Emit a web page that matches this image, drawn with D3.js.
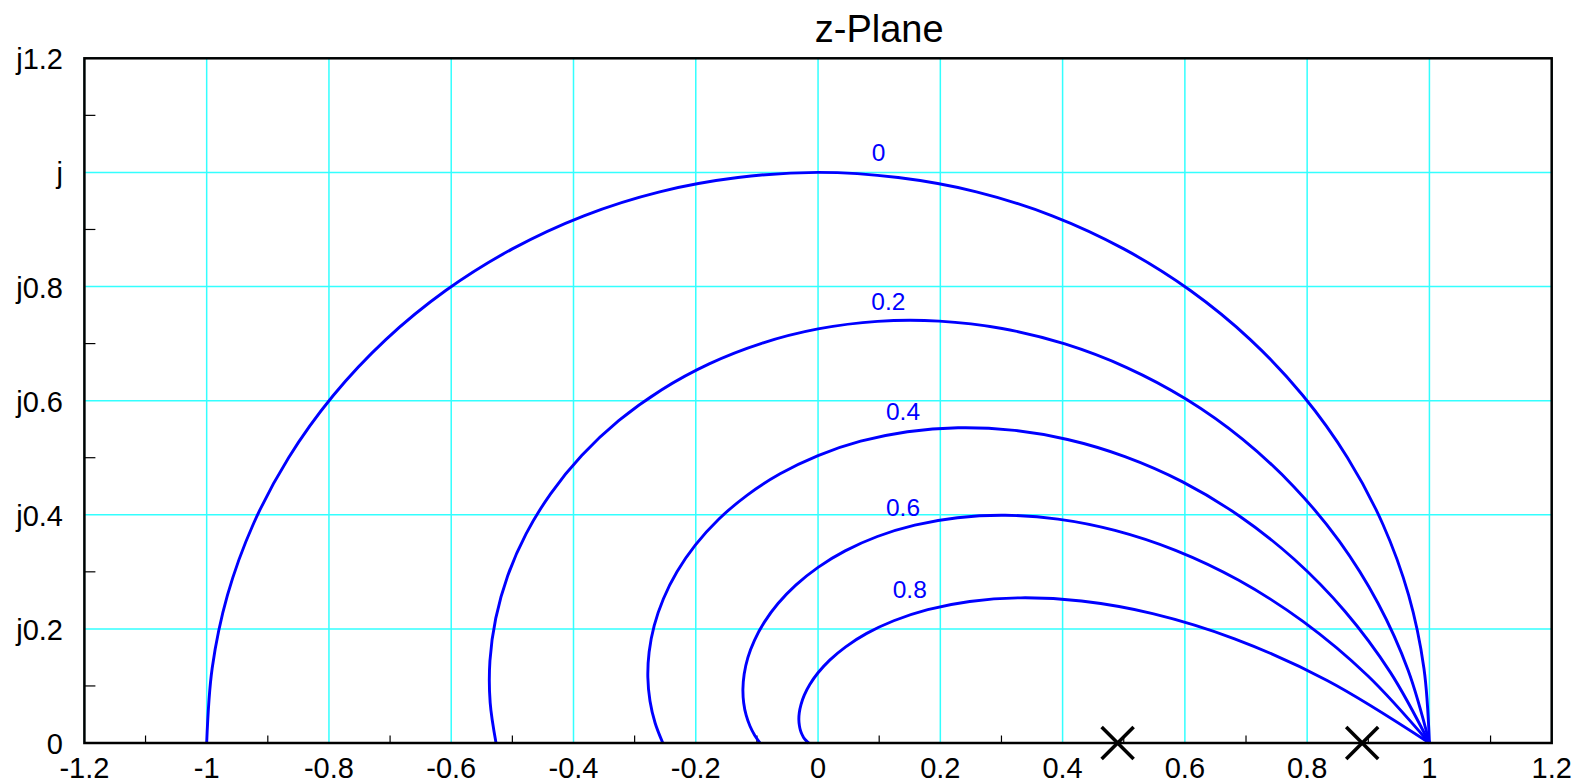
<!DOCTYPE html>
<html>
<head>
<meta charset="utf-8">
<script src="https://cdn.jsdelivr.net/npm/d3@7"></script>
<style>
  body { margin: 0; background: #fff; }
  svg { font-family: "Liberation Sans", Arial, sans-serif; }
</style>
</head>
<body>
<svg id="chart" width="1585" height="784"></svg>
<script>
// tick values and labels
var xTicks = [-1.2, -1, -0.8, -0.6, -0.4, -0.2, 0, 0.2, 0.4, 0.6, 0.8, 1, 1.2];
var xTickLabels = ["-1.2", "-1", "-0.8", "-0.6", "-0.4", "-0.2", "0", "0.2", "0.4", "0.6", "0.8", "1", "1.2"];
var yTicks = [0, 0.2, 0.4, 0.6, 0.8, 1, 1.2];
var yTickLabels = ["0", "j0.2", "j0.4", "j0.6", "j0.8", "j", "j1.2"];
var xMinor = [-1.1, -0.9, -0.7, -0.5, -0.3, -0.1, 0.1, 0.3, 0.5, 0.7, 0.9, 1.1];
var yMinor = [0.1, 0.3, 0.5, 0.7, 0.9, 1.1];

// constant damping curves as [re, im]
var curveNames = ["0", "0.2", "0.4", "0.6", "0.8"];
var curve0 = [[1, 0], [0.991, 0.131], [0.966, 0.259], [0.924, 0.383], [0.866, 0.5], [0.793, 0.609], [0.707, 0.707],
  [0.609, 0.793], [0.5, 0.866], [0.383, 0.924], [0.259, 0.966], [0.131, 0.991], [0, 1],
  [-0.131, 0.991], [-0.259, 0.966], [-0.383, 0.924], [-0.5, 0.866], [-0.609, 0.793], [-0.707, 0.707],
  [-0.793, 0.609], [-0.866, 0.5], [-0.924, 0.383], [-0.966, 0.259], [-0.991, 0.131], [-1, 0]];
var curve02 = [[1, 0], [0.9653, 0.1271], [0.9157, 0.2453], [0.8528, 0.3532], [0.7782, 0.4493], [0.6942, 0.5326],
  [0.6024, 0.6024], [0.5049, 0.658], [0.4038, 0.6994], [0.3009, 0.7265], [0.1981, 0.7394], [0.0973, 0.739],
  [0, 0.7257], [-0.0922, 0.7005], [-0.1781, 0.6645], [-0.2563, 0.6188], [-0.3261, 0.5648], [-0.3866, 0.5038],
  [-0.4372, 0.4372], [-0.4776, 0.3665], [-0.5076, 0.2931], [-0.5272, 0.2184], [-0.5367, 0.1438], [-0.5363, 0.0706],
  [-0.5267, 0]];
var curve04 = [[1, 0], [0.9364, 0.1233], [0.8617, 0.2309], [0.7784, 0.3224], [0.6891, 0.3979], [0.5963, 0.4576],
  [0.5019, 0.5019], [0.4081, 0.5319], [0.3166, 0.5484], [0.2289, 0.5525], [0.1462, 0.5456], [0.0696, 0.5289],
  [0, 0.5038], [-0.0621, 0.4718], [-0.1163, 0.4341], [-0.1625, 0.3922], [-0.2005, 0.3472], [-0.2305, 0.3005],
  [-0.2529, 0.2529], [-0.268, 0.2056], [-0.2763, 0.1595], [-0.2784, 0.1153], [-0.2749, 0.0737], [-0.2665, 0.0351],
  [-0.2539, 0]];
var curve06 = [[1, 0], [0.8987, 0.1183], [0.7937, 0.2127], [0.6882, 0.2851], [0.5847, 0.3376], [0.4856, 0.3726],
  [0.3924, 0.3924], [0.3062, 0.3991], [0.228, 0.3948], [0.1582, 0.3818], [0.097, 0.3619], [0.0443, 0.3367],
  [0, 0.3079], [-0.0364, 0.2767], [-0.0655, 0.2444], [-0.0878, 0.2118], [-0.104, 0.18], [-0.1148, 0.1496],
  [-0.1208, 0.1208], [-0.1229, 0.0943], [-0.1216, 0.0702], [-0.1176, 0.0487], [-0.1114, 0.0298], [-0.1037, 0.0137],
  [-0.0948, 0]];
var curve08 = [[1, 0], [0.8327, 0.1096], [0.6813, 0.1825], [0.5473, 0.2267], [0.4308, 0.2488], [0.3315, 0.2544],
  [0.2481, 0.2481], [0.1794, 0.2338], [0.1238, 0.2143], [0.0796, 0.1921], [0.0452, 0.1686], [0.0191, 0.1453],
  [0, 0.1231], [-0.0135, 0.1025], [-0.0225, 0.0839], [-0.0279, 0.0674], [-0.0307, 0.0531], [-0.0314, 0.0409],
  [-0.0305, 0.0305], [-0.0288, 0.0221], [-0.0264, 0.0153], [-0.0237, 0.0098], [-0.0208, 0.0056], [-0.0179, 0.0024],
  [-0.0152, 0]];
var curves = [curve0, curve02, curve04, curve06, curve08];

// label anchor points (centre x, baseline y) in plot units
var labelX = [0.099, 0.115, 0.139, 0.139, 0.150];
var labelY = [1.02, 0.758, 0.566, 0.397, 0.254];

// poles on the real axis
var poles = [0.49, 0.89];

var svg = d3.select("#chart");
var plotL = 84.4, plotR = 1551.7, plotT = 58.3, plotB = 743;

var x = d3.scaleLinear().domain([-1.2, 1.2]).range([plotL, plotR]);
var y = d3.scaleLinear().domain([0, 1.2]).range([plotB, plotT]);

// grid
var grid = svg.append("g").attr("stroke", "#33ffff").attr("stroke-width", 1.5);
grid.selectAll(".gx").data(xTicks).enter().append("line")
    .attr("x1", d => x(d)).attr("x2", d => x(d))
    .attr("y1", plotT).attr("y2", plotB);
grid.selectAll(".gy").data(yTicks).enter().append("line")
    .attr("y1", d => y(d)).attr("y2", d => y(d))
    .attr("x1", plotL).attr("x2", plotR);

// minor ticks (inside, left and bottom only)
var ticks = svg.append("g").attr("stroke", "#000").attr("stroke-width", 1.2);
ticks.selectAll(".tx").data(xMinor).enter().append("line")
    .attr("x1", d => x(d)).attr("x2", d => x(d))
    .attr("y1", plotB).attr("y2", plotB - 7.5);
ticks.selectAll(".ty").data(yMinor).enter().append("line")
    .attr("y1", d => y(d)).attr("y2", d => y(d))
    .attr("x1", plotL).attr("x2", plotL + 11);

// curves
var line = d3.line()
    .x(d => x(d[0]))
    .y(d => y(d[1]))
    .curve(d3.curveCatmullRom.alpha(0.5));

svg.append("g").selectAll("path").data(curves).enter().append("path")
    .attr("d", line)
    .attr("fill", "none")
    .attr("stroke", "#0000ff")
    .attr("stroke-width", 2.9);

svg.append("g").selectAll("text").data(curveNames).enter().append("text")
    .attr("x", (d, i) => x(labelX[i]))
    .attr("y", (d, i) => y(labelY[i]))
    .attr("text-anchor", "middle")
    .attr("font-size", 24.5)
    .attr("fill", "#0000ff")
    .text(d => d);

// frame
svg.append("rect")
    .attr("x", plotL).attr("y", plotT)
    .attr("width", plotR - plotL).attr("height", plotB - plotT)
    .attr("fill", "none")
    .attr("stroke", "#000")
    .attr("stroke-width", 2.5);

// pole crosses
var s = 16;
var cross = svg.append("g").attr("stroke", "#000").attr("stroke-width", 3.5);
poles.forEach(p => {
  cross.append("line").attr("x1", x(p) - s).attr("y1", y(0) - s).attr("x2", x(p) + s).attr("y2", y(0) + s);
  cross.append("line").attr("x1", x(p) - s).attr("y1", y(0) + s).attr("x2", x(p) + s).attr("y2", y(0) - s);
});

// tick labels
svg.append("g").selectAll("text").data(xTicks).enter().append("text")
    .attr("x", d => x(d))
    .attr("y", 778)
    .attr("text-anchor", "middle")
    .attr("font-size", 29)
    .text((d, i) => xTickLabels[i]);

svg.append("g").selectAll("text").data(yTicks).enter().append("text")
    .attr("x", 63)
    .attr("y", d => y(d) + 11)
    .attr("text-anchor", "end")
    .attr("font-size", 29)
    .text((d, i) => yTickLabels[i]);

// title
svg.append("text")
    .attr("x", x(0.1))
    .attr("y", 41.7)
    .attr("text-anchor", "middle")
    .attr("font-size", 38)
    .text("z-Plane");
</script>
</body>
</html>
